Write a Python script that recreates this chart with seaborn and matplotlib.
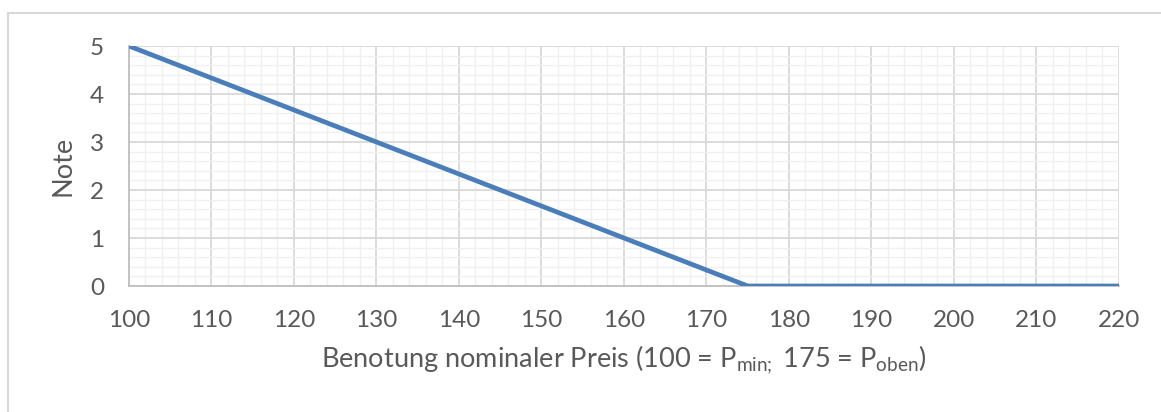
import numpy as np
import pandas as pd
import matplotlib
matplotlib.use("Agg")
import matplotlib.pyplot as plt
from matplotlib.patches import Rectangle
from matplotlib.ticker import MultipleLocator
import seaborn as sns

# Data
preis = [100, 175, 220]
note = [5, 0, 0]
x_ticks = list(range(100, 221, 10))
y_ticks = [0, 1, 2, 3, 4, 5]

df = pd.DataFrame({"Preis": preis, "Note": note})

sns.set_style("white")
plt.rcParams["font.family"] = ["Lato", "DejaVu Sans"]
plt.rcParams["mathtext.fontset"] = "custom"
plt.rcParams["mathtext.rm"] = "Lato"
plt.rcParams["mathtext.it"] = "Lato:italic"

text_col = "#595959"
grid_major = "#d9d9d9"
grid_minor = "#f0f0f0"

fig = plt.figure(figsize=(11.61, 4.12), dpi=100)
ax = fig.add_axes([0.1111, 0.3058, 0.8527, 0.5825])

sns.lineplot(data=df, x="Preis", y="Note", color="#4a7ebb", linewidth=3.4, ax=ax,
             solid_capstyle="butt", zorder=3)

ax.set_xlim(100, 220)
ax.set_ylim(0, 5)
ax.set_xticks(x_ticks)
ax.set_yticks(y_ticks)
ax.xaxis.set_minor_locator(MultipleLocator(2))
ax.yaxis.set_minor_locator(MultipleLocator(0.2))
ax.grid(which="major", color=grid_major, linewidth=1.3, zorder=0)
ax.grid(which="minor", color=grid_minor, linewidth=1.0, zorder=0)
ax.set_axisbelow(True)

for s in ["top", "right"]:
    ax.spines[s].set_visible(False)
for s in ["left", "bottom"]:
    ax.spines[s].set_color("#bfbfbf")
    ax.spines[s].set_linewidth(1.3)

ax.tick_params(axis="both", which="major", direction="out", length=6, width=1.3,
               color="#bfbfbf", labelcolor=text_col, labelsize=17.5)
ax.tick_params(axis="x", which="major", pad=11)
ax.tick_params(axis="y", which="major", pad=12)
ax.tick_params(axis="both", which="minor", length=0)

ax.set_xlabel(r"Benotung nominaler Preis (100 = P$_{\mathrm{min;}}$ 175 = P$_{\mathrm{oben}}$)",
              fontsize=19.5, color=text_col, labelpad=9)
ax.set_ylabel("Note", fontsize=19.5, color=text_col, labelpad=10)

# outer chart border
fig.patches.append(Rectangle((8 / 1161, -0.05), 1.1, (412 - 13) / 412 + 0.05,
                             transform=fig.transFigure, fill=False,
                             edgecolor="#d9d9d9", linewidth=1.5))

fig.savefig("out.png", dpi=100)
